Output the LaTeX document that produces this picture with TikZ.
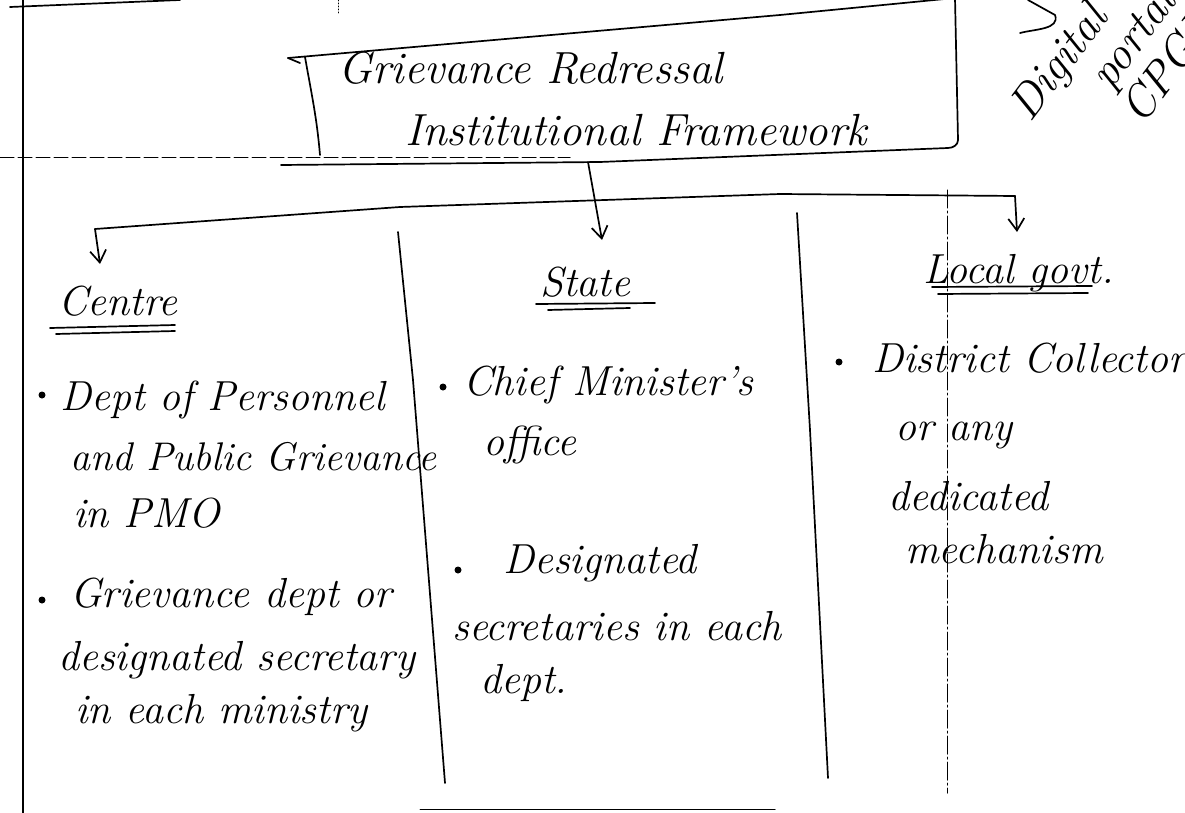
\documentclass[tikz,border=0pt]{standalone}
\usetikzlibrary{arrows.meta}
\tikzset{
  pen/.style={line width=1.7pt, line cap=round, line join=round},
  thinpen/.style={line width=1pt, line cap=round},
  hand/.style={anchor=base west, inner sep=0pt, font=\fontsize{42}{46}\selectfont\itshape},
  handsm/.style={anchor=base west, inner sep=0pt, font=\fontsize{40}{44}\selectfont\itshape},
  handbig/.style={anchor=base west, inner sep=0pt, font=\fontsize{45}{49}\selectfont\itshape},
  scrib/.style={anchor=base west, inner sep=0pt, rotate=53, font=\fontsize{46}{50}\selectfont\itshape},
  barb/.style={-{Straight Barb[length=12pt,width=16pt,line width=1.7pt]}},
  bul/.style={circle, fill=black, inner sep=0pt, minimum size=7pt},
}
\begin{document}
\begin{tikzpicture}[x=1pt,y=-1pt]
\useasboundingbox (0,0) rectangle (1185,813);
\clip (0,0) rectangle (1185,813);
% page rules
\draw[pen] (23,0) -- (23,813);
\draw[pen] (10,7) -- (180,0);
\draw[thinpen, dash pattern=on 14pt off 4pt] (0,158) -- (570,158);
\draw[thinpen, dotted] (338,0) -- (338,15);
\draw[thinpen, dash pattern=on 18pt off 3pt on 2pt off 3pt] (947,190) -- (947,793);
\draw[thinpen] (420,809) -- (775,809);
% title box
\coordinate (bTL) at (288,58);
\coordinate (bTR) at (955,-2);
\coordinate (bBR) at (958,140);
\coordinate (bBL) at (281,165);
\draw[pen] (bTL) -- (300,63);
\draw[pen] (bTL) -- (780,15) -- (bTR);
\draw[pen] (305,57) to[out=-80,in=95] (320,155);
\draw[pen] (bTR) -- (bBR) to[out=-90,in=0] (948,148) -- (600,162) -- (bBL);
\node[handbig] (t1) at (338,84) {Grievance Redressal};
\node[handbig] (t2) at (405,146) {Institutional Framework};
% branch connectors
\coordinate (stemTop) at (588,162);
\coordinate (stateEnd) at (602,240);
\coordinate (brL) at (95,229);
\coordinate (brR) at (1015,196);
\coordinate (centreEnd) at (100,264);
\coordinate (localEnd) at (1017,232);
\draw[pen, barb] (stemTop) -- (stateEnd);
\draw[pen] (brL) -- (400,207) -- (780,194) -- (brR);
\draw[pen, barb] (brL) -- (centreEnd);
\draw[pen, barb] (brR) -- (localEnd);
% column dividers
\draw[pen] (398,232) -- (413,380) -- (445,783);
\draw[pen] (797,213) -- (810,430) -- (828,778);
% headings
\node[hand] (centre) at (58,315) {Centre};
\draw[pen] (50,328) -- (175,325);
\draw[pen] (56,334) -- (175,331);
\node[hand] (state) at (540,296) {State};
\draw[pen] (536,304) -- (655,303);
\draw[pen] (548,310) -- (630,308);
\node[hand] (local) at (923,283) {Local govt.};
\draw[pen] (932,287) -- (1092,286);
\draw[pen] (938,294) -- (1088,293);
% centre items
\node[bul] (cb1) at (42,395) {};
\node[hand] (c1) at (60,410) {Dept of Personnel};
\node[handsm] (c2) at (70,470) {and Public Grievance};
\node[hand] (c3) at (73,527) {in PMO};
\node[bul] (cb2) at (42,600) {};
\node[hand] (c4) at (70,607) {Grievance dept or};
\node[hand] (c5) at (58,670) {designated secretary};
\node[hand] (c6) at (75,723) {in each ministry};
% state items
\node[bul] (sb1) at (443,387) {};
\node[hand] (s1) at (463,395) {Chief Minister's};
\node[hand] (s2) at (483,455) {office};
\node[bul] (sb2) at (458,570) {};
\node[hand] (s3) at (503,573) {Designated};
\node[hand] (s4) at (452,640) {secretaries in each};
\node[hand] (s5) at (480,693) {dept.};
% local items
\node[bul] (lb1) at (839,362) {};
\node[hand] (l1) at (872,372) {District Collector};
\node[hand] (l2) at (895,440) {or any};
\node[hand] (l3) at (888,510) {dedicated};
\node[hand] (l4) at (905,563) {mechanism};
% margin scribble (top right)
\draw[pen] (1028,0) -- (1055,15) to[out=-70,in=15] (1020,33);
\node[scrib] (m1) at (1030,124) {Digital};
\node[scrib] (m2) at (1110,92) {portal};
\node[scrib] (m3) at (1142,127) {CPGRAMS};
\end{tikzpicture}
\end{document}
